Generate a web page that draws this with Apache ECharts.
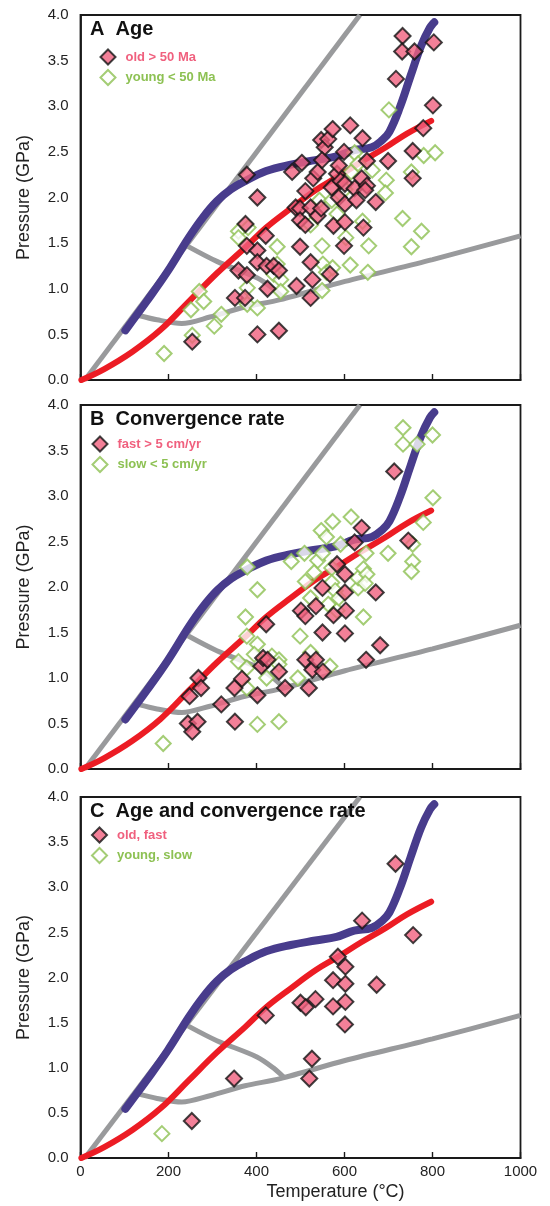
<!DOCTYPE html>
<html>
<head>
<meta charset="utf-8">
<script src="https://cdn.jsdelivr.net/npm/echarts@6/dist/echarts.min.js"></script>
<style>
  html, body { margin: 0; padding: 0; background: #fff; }
  #chart { width: 550px; height: 1206px; }
</style>
</head>
<body>
<div id="chart"></div>
<script>
// ---- axis ticks ----
const tempTicks = [0, 200, 400, 600, 800, 1000];
const pressureTicks = [0, 0.5, 1.0, 1.5, 2.0, 2.5, 3.0, 3.5, 4.0];

// ---- reference curves (T in °C, P in GPa) ----
const steepGeotherm = [[10, 0], [635, 4.0]];
const lowerBoundary = [[130, 0.71], [174, 0.66], [230, 0.62], [294, 0.69], [374, 0.80], [454, 0.88], [601, 1.08], [800, 1.32], [1000, 1.58]];
const branchBoundary = [[242, 1.47], [310, 1.30], [401, 1.12], [438, 1.00], [461, 0.90]];
const purplePath = [[102, 0.545], [150, 0.86], [198, 1.19], [246, 1.56], [278, 1.78], [310, 1.96], [342, 2.09], [374, 2.18], [422, 2.29], [478, 2.36], [534, 2.41], [582, 2.45], [622, 2.52], [662, 2.55], [686, 2.63], [702, 2.72], [726, 2.99], [750, 3.33], [774, 3.66], [794, 3.86], [804, 3.92]];
const redPath = [[2, 0], [54, 0.12], [118, 0.31], [182, 0.55], [246, 0.86], [310, 1.17], [374, 1.45], [422, 1.67], [478, 1.88], [534, 2.08], [582, 2.22], [638, 2.39], [694, 2.55], [742, 2.70], [797, 2.84]];

// ---- A: slab age ----
const ageOld = [[254,0.42],[378,2.25],[402,2.00],[375,1.71],[378,1.47],[402,1.42],[402,1.29],[421,1.58],[359,1.20],[378,1.15],[351,0.90],[374,0.90],[425,1.00],[423,1.25],[439,1.25],[451,1.20],[402,0.50],[451,0.54],[481,2.28],[503,2.38],[491,1.03],[499,1.46],[489,1.89],[499,1.88],[499,1.75],[511,1.70],[511,2.07],[523,1.89],[523,1.29],[527,1.10],[523,0.90],[529,2.21],[539,2.28],[539,1.80],[547,1.88],[547,2.63],[555,2.55],[563,2.64],[549,2.41],[573,2.75],[571,2.11],[575,1.69],[583,2.26],[587,2.35],[587,2.00],[599,2.50],[591,2.18],[601,2.15],[601,1.93],[601,1.73],[599,1.47],[613,2.79],[623,2.10],[627,1.97],[641,2.65],[643,1.67],[639,2.21],[651,2.40],[651,2.13],[647,2.08],[671,1.95],[699,2.40],[717,3.30],[732,3.77],[731,3.60],[759,3.60],[803,3.70],[801,3.01],[779,2.76],[755,2.51],[755,2.21],[567,1.16]];
const ageYoung = [[190,0.29],[254,0.49],[251,0.77],[270,0.97],[280,0.86],[304,0.59],[320,0.72],[359,1.63],[359,1.56],[381,1.67],[379,1.01],[379,0.83],[402,0.79],[447,1.46],[447,1.27],[439,1.16],[455,1.10],[455,0.97],[523,1.70],[543,1.97],[549,1.47],[551,1.27],[559,1.18],[549,0.98],[573,1.23],[583,1.82],[603,1.56],[601,2.09],[615,2.28],[623,2.49],[613,1.26],[641,1.74],[655,1.47],[653,1.18],[663,2.30],[695,2.19],[693,2.05],[701,2.96],[732,1.77],[752,1.46],[752,2.28],[775,1.63],[780,2.46],[806,2.49],[631,2.37],[571,1.97]];

// ---- B: convergence rate ----
const rateFast = [[248,0.80],[268,1.00],[274,0.89],[244,0.50],[266,0.52],[254,0.41],[320,0.71],[350,0.89],[351,0.52],[367,0.99],[402,0.81],[411,1.13],[415,1.22],[425,1.20],[422,1.59],[451,1.07],[465,0.89],[501,1.74],[511,1.68],[511,1.20],[519,0.89],[527,1.09],[535,1.79],[535,1.20],[550,1.99],[550,1.50],[551,1.07],[575,1.69],[583,2.25],[601,2.14],[601,1.94],[603,1.74],[601,1.49],[623,2.49],[639,2.65],[649,1.20],[671,1.94],[681,1.36],[713,3.27],[745,2.51]];
const rateSlow = [[188,0.28],[379,2.22],[375,1.67],[378,1.46],[402,1.97],[402,1.37],[402,0.49],[451,0.52],[359,1.18],[378,1.11],[378,0.89],[395,1.26],[423,1.00],[435,1.24],[451,1.20],[451,1.15],[494,1.00],[499,1.46],[523,1.28],[567,1.13],[479,2.28],[509,2.37],[511,2.06],[523,1.88],[539,2.29],[531,2.16],[550,2.37],[547,2.62],[559,2.55],[573,2.72],[571,2.21],[571,2.05],[579,1.96],[563,1.81],[583,1.74],[591,2.47],[587,1.88],[615,2.77],[631,1.99],[631,2.10],[643,2.20],[651,2.14],[647,2.04],[649,2.37],[643,1.67],[699,2.37],[733,3.75],[733,3.57],[765,3.57],[800,3.67],[801,2.98],[755,2.47],[755,2.28],[752,2.17],[779,2.71]];

// ---- C: age and convergence rate combined ----
const oldFast = [[253,0.41],[349,0.88],[421,1.58],[500,1.72],[512,1.67],[534,1.76],[520,0.88],[526,1.10],[574,1.97],[574,1.68],[585,2.23],[602,2.12],[602,1.93],[602,1.73],[601,1.48],[640,2.63],[673,1.92],[716,3.26],[756,2.47]];
const youngSlow = [[185,0.27]];

const panels = [
  { title: 'A  Age', top: 15, height: 365, hot: ['old > 50 Ma', ageOld], cool: ['young < 50 Ma', ageYoung], legendLeft: 99.5, legendTop: 48.5 },
  { title: 'B  Convergence rate', top: 405, height: 364, hot: ['fast > 5 cm/yr', rateFast], cool: ['slow < 5 cm/yr', rateSlow], legendLeft: 91.5, legendTop: 435.5 },
  { title: 'C  Age and convergence rate', top: 797, height: 361, hot: ['old, fast', oldFast], cool: ['young, slow', youngSlow], legendLeft: 91, legendTop: 826.5 }
];

const FONT = '"Liberation Sans", Arial, Helvetica, sans-serif';
const PINK = '#F0607E';
const GREEN = '#8DC153';
const GRAY = '#999a9c';
const PURPLE = '#483C8C';
const RED = '#EC1C24';
const INK = '#1a1a1a';

const grid = [], xAxis = [], yAxis = [], series = [], legend = [], title = [];

panels.forEach((p, i) => {
  const last = i === panels.length - 1;
  grid.push({ left: 80.5, width: 440, top: p.top, height: p.height, show: true, borderColor: INK, borderWidth: 1.8, backgroundColor: 'transparent' });
  xAxis.push({
    type: 'value', gridIndex: i, min: tempTicks[0], max: tempTicks[tempTicks.length - 1], interval: 200,
    axisLine: { show: true, lineStyle: { color: INK, width: 1.8 } },
    axisTick: { show: true, inside: true, length: 6, lineStyle: { color: INK, width: 1.4 } },
    splitLine: { show: false },
    axisLabel: { show: last, fontFamily: FONT, fontSize: 15, color: '#222', margin: 6, formatter: v => String(v) },
    name: last ? 'Temperature (°C)' : '', nameLocation: 'middle', nameGap: 25,
    nameTextStyle: { fontFamily: FONT, fontSize: 18, color: '#222', padding: [0, 0, 0, 70] }
  });
  yAxis.push({
    type: 'value', gridIndex: i, min: pressureTicks[0], max: pressureTicks[pressureTicks.length - 1], interval: 0.5,
    axisLine: { show: true, lineStyle: { color: INK, width: 1.8 } },
    axisTick: { show: false },
    splitLine: { show: false },
    axisLabel: { fontFamily: FONT, fontSize: 15, color: '#222', margin: 12, formatter: v => v.toFixed(1) },
    name: 'Pressure (GPa)', nameLocation: 'middle', nameGap: 47,
    nameTextStyle: { fontFamily: FONT, fontSize: 18, color: '#222' }
  });

  const lineBase = { type: 'line', xAxisIndex: i, yAxisIndex: i, showSymbol: false, symbol: 'none', silent: true };
  series.push(
    Object.assign({}, lineBase, { name: 'steep' + i, data: steepGeotherm, lineStyle: { color: GRAY, width: 5 }, z: 2 }),
    Object.assign({}, lineBase, { name: 'lower' + i, data: lowerBoundary, smooth: 0.3, lineStyle: { color: GRAY, width: 5 }, z: 2 }),
    Object.assign({}, lineBase, { name: 'branch' + i, data: branchBoundary, smooth: 0.3, lineStyle: { color: GRAY, width: 5 }, z: 2 }),
    Object.assign({}, lineBase, { name: 'red' + i, data: redPath, smooth: 0.4, lineStyle: { color: RED, width: 6, cap: 'round' }, z: 3 }),
    Object.assign({}, lineBase, { name: 'purple' + i, data: purplePath, smooth: 0.4, lineStyle: { color: PURPLE, width: 8, cap: 'round' }, z: 3 }),
    {
      type: 'scatter', name: p.cool[0], xAxisIndex: i, yAxisIndex: i, data: p.cool[1],
      symbol: 'diamond', symbolSize: 15, z: 4,
      itemStyle: { color: '#ffffff', borderColor: GREEN, borderWidth: 2 }
    },
    {
      type: 'scatter', name: p.hot[0], xAxisIndex: i, yAxisIndex: i, data: p.hot[1],
      symbol: 'diamond', symbolSize: 16, z: 5,
      itemStyle: { color: PINK, borderColor: '#111', borderWidth: 2 }
    }
  );

  legend.push({
    orient: 'vertical', left: p.legendLeft, top: p.legendTop, itemWidth: 15, itemHeight: 15, itemGap: 3.5,
    icon: 'diamond', selectedMode: false, padding: 0,
    data: [
      { name: p.hot[0], textStyle: { color: PINK } },
      { name: p.cool[0], textStyle: { color: GREEN } }
    ],
    textStyle: { fontFamily: FONT, fontSize: 13, fontWeight: 'bold', padding: [0, 0, 0, 5] }
  });

  title.push({
    text: p.title, left: 90, top: p.top + 4, padding: 0,
    textStyle: { fontFamily: FONT, fontSize: 20, fontWeight: 'bold', color: '#111' }
  });
});

const chart = echarts.init(document.getElementById('chart'), null, { renderer: 'canvas' });
chart.setOption({
  animation: false,
  backgroundColor: '#ffffff',
  title, grid, xAxis, yAxis, legend, series
});
</script>
</body>
</html>
